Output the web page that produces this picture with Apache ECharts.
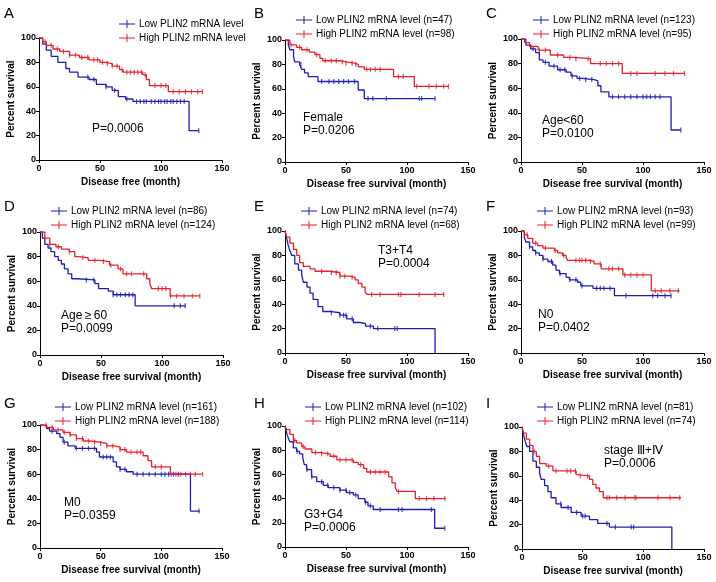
<!DOCTYPE html>
<html><head><meta charset="utf-8">
<script src="https://cdn.jsdelivr.net/npm/echarts@6/dist/echarts.min.js"></script>
<style>html,body{margin:0;padding:0;background:#fff}#c{width:716px;height:582px}</style>
</head><body><div id="c"></div>
<script>
// ---------- DATA ----------
const panelLetters = ['A','B','C','D','E','F','G','H','I'];
const lowNames = ['Low PLIN2 mRNA level','Low PLIN2 mRNA level (n=47)','Low PLIN2 mRNA level (n=123)','Low PLIN2 mRNA level (n=86)','Low PLIN2 mRNA level (n=74)','Low PLIN2 mRNA level (n=93)','Low PLIN2 mRNA level (n=161)','Low PLIN2 mRNA level (n=102)','Low PLIN2 mRNA level (n=81)'];
const highNames = ['High PLIN2 mRNA level','High PLIN2 mRNA level (n=98)','High PLIN2 mRNA level (n=95)','High PLIN2 mRNA level (n=124)','High PLIN2 mRNA level (n=68)','High PLIN2 mRNA level (n=99)','High PLIN2 mRNA level (n=188)','High PLIN2 mRNA level (n=114)','High PLIN2 mRNA level (n=74)'];
const xNames = ['Disease free (month)','Disease free survival (month)','Disease free survival (month)','Disease free survival (month)','Disease free survival (month)','Disease free survival (month)','Disease free survival (month)','Disease free survival (month)','Disease free survival (month)'];
const subgroupLabels = ['','Female','Age<60','Age\u2009\u2265\u200960','T3+T4','N0','M0','G3+G4','stage \u2162+\u2163'];
const pValues = ['P=0.0006','P=0.0206','P=0.0100','P=0.0099','P=0.0004','P=0.0402','P=0.0359','P=0.0006','P=0.0006'];
const xTicks = [0, 50, 100, 150];
const yTicks = [0, 20, 40, 60, 80, 100];

// Kaplan-Meier step points [month, percent survival]
const lowA = [[0,100],[3,95],[6,90],[10,85],[15.5,80],[22,75],[25,72],[32,68],[41,66],[47,62],[55,60],[60,57],[65,52],[71,50],[77,48],[123,24],[131,24]];
const highA = [[0,100],[3,97],[6,94],[11.5,91],[17,89],[25,86],[33,84],[41,82],[50,80],[55,79],[60,77],[66,74],[69,72],[85,70],[88,66],[90.5,61],[106,56],[134,56]];
const lowB = [[0,100],[2.7,96],[4,92],[7,86],[8,82],[12,80],[13.6,76],[16,73],[19,70],[27,66],[60,59],[65,52],[123,52]];
const highB = [[0,100],[4,96],[9.5,94],[13.6,92],[20,90],[24.5,88],[28.6,85],[31,83],[45,82],[50,81],[57,80],[60,78],[65,76],[89,70],[106,62],[134,62]];
const lowC = [[0,100],[4,95],[8,92],[12,89],[15,83],[18,81],[23,78],[30,75],[37,73],[41,70],[46,68],[50,67],[60,66],[63,62],[65.5,57],[72,53],[123,26],[131,26]];
const highC = [[0,100],[3,97],[7,94],[14,91],[24,87],[35,85],[42,84],[57,80],[83,72],[134,72]];
const lowD = [[0,100],[2,95],[4,90],[6.6,87],[9,84],[12,80],[15,77],[17.5,74],[20,70],[23,66],[26,62],[31,61],[45,58],[48,54],[56,52],[60,49],[78,40],[119.5,40]];
const highD = [[0,100],[4,95],[8,90],[13,88],[17.5,86],[24,84],[28.5,80],[32,79],[39.5,77],[49,76],[57,73],[64,70],[68,66],[87.5,62],[90,58],[91.5,54],[106.7,48],[131,48]];
const lowE = [[0,100],[1.4,94],[2.7,88],[4,84],[5.5,80],[8,73],[11,68],[13.7,64],[15,58],[18,54],[20.5,49],[23,44],[27,38],[31,34],[38,33],[45,31],[50.6,28],[56,25],[61.6,24],[66,22],[72.5,20],[123,0]];
const highE = [[0,100],[1.4,95],[4,90],[7,85],[9.6,80],[12,74],[15,71],[20.5,69],[24.6,67],[35.6,66],[45,63],[53,62],[57.5,60],[60,57],[63,54],[65.7,50],[67,48],[130.6,48]];
const lowF = [[0,100],[2.7,95],[4,91],[7,87],[9.6,84],[12,82],[15,80],[18,77],[22,75],[26,72],[28.7,68],[31.5,65],[37,62],[39.7,60],[46.5,58],[49,55],[59,53],[76.6,47],[123,47]];
const highF = [[0,100],[2.7,97],[5.5,94],[9.6,90],[13.7,88],[18,86],[27.4,84],[30,82],[34,80],[37,78],[38.3,76],[56,75],[60,73],[65.7,69],[83.5,64],[106.8,51],[130,51]];
const lowG = [[0,100],[2.7,99],[5.5,97],[8,95],[13.7,93],[16.5,90],[19,86],[23,83],[29,81],[46.6,78],[49,74],[60.3,70],[63,66],[66,64],[71.3,62],[76.8,60],[124,30],[131.6,30]];
const highG = [[0,100],[5.5,98],[11,96],[19,94],[24.7,92],[30,89],[35.6,87],[41,86],[49.4,85],[55,83],[61.7,82],[66,80],[71.3,78],[85,75],[89,71],[92,66],[107.5,60],[134,60]];
const lowH = [[0,100],[1.4,94],[2.7,90],[4,87],[6.8,82],[9.5,79],[12,77],[14.5,74],[15.8,68],[17.7,64],[21.8,58],[26,54],[31.4,51],[35.5,49],[45,47],[50.5,45],[56,43],[60,40],[65.5,37],[68,34],[72.3,31],[122.7,15.5],[131,15.5]];
const highH = [[0,100],[1.4,97],[4,93],[6.8,88],[9.5,86],[13.7,83],[16.4,81],[22,78],[28.8,77],[37,75],[42.5,72],[56,70],[60,68],[64.4,65],[67,62],[85,58],[87.7,53],[90.4,49],[91.8,46],[106.8,40],[131.5,40]];
const lowI = [[0,100],[1.4,93],[2.7,88],[4,84],[6.3,80],[9,72],[11.8,67],[14.5,62],[15.9,57],[18.6,52],[21.4,47],[24,42],[28,37],[32.3,34],[40.5,30],[48.7,27],[55.6,24],[62.4,21],[72,18],[123.5,0]];
const highI = [[0,100],[1.4,95],[3.6,90],[6.3,85],[9,80],[11.8,76],[14.5,70],[20,68],[25.5,64],[44.6,61],[46,60],[55.6,57],[58.3,53],[61,50],[63.8,47],[67,42],[131,42]];

// censored observation times (months)
const censLowA = [40,45,55,62,72,80,83,86,88,92,95,98,100,103,105,108,110,113,116,119,131];
const censHighA = [5,10,15,20,25,30,35,40,45,48,52,56,60,64,68,72,75,78,81,84,87,95,100,104,110,115,120,125,130,134];
const censLowB = [13,30,36,40,44,48,52,57,68,72,83,110,112,123];
const censHighB = [5,12,18,26,33,38,42,47,50,55,58,67,70,74,78,93,97,108,118,124,130,134];
const censLowC = [10,20,27,32,36,42,48,53,58,75,80,85,90,95,100,103,106,110,114,131];
const censHighC = [8,15,20,30,40,45,55,65,70,75,80,90,95,110,118,125,134];
const censLowD = [38,44,60,63,66,70,73,76,110,115,119];
const censHighD = [8,15,24,35,45,52,58,66,71,75,85,97,100,103,107,112,118,125,131];
const censLowE = [38,45,48,50,55,70,76,90,92];
const censHighE = [30,38,42,45,49,55,71,78,93,95,110,123,130];
const censLowF = [7,12,18,25,32,40,45,50,62,65,68,73,86,108,112,118,123];
const censHighF = [5,12,20,28,35,45,48,50,53,57,65,72,75,80,85,90,95,100,110,115,122,129];
const censLowG = [10,20,30,35,40,45,52,55,58,66,70,80,85,90,95,100,103,106,110,114,131];
const censHighG = [5,10,15,20,25,30,35,40,45,50,55,60,66,70,75,80,83,95,100,108,112,116,120,124,128,134];
const censLowH = [10,18,22,30,35,40,45,50,53,58,66,70,78,93,96,120,131];
const censHighH = [8,15,25,30,35,40,45,50,55,62,70,74,78,82,93,110,116,122,131];
const censLowI = [32,38,45,50,52,70,77,90,92];
const censHighI = [10,22,28,37,40,44,48,54,70,72,78,85,93,94,112,122,130];

const lowCurves = [lowA,lowB,lowC,lowD,lowE,lowF,lowG,lowH,lowI];
const highCurves = [highA,highB,highC,highD,highE,highF,highG,highH,highI];
const lowCens = [censLowA,censLowB,censLowC,censLowD,censLowE,censLowF,censLowG,censLowH,censLowI];
const highCens = [censHighA,censHighB,censHighC,censHighD,censHighE,censHighF,censHighG,censHighH,censHighI];

// ---------- LAYOUT ----------
const BLUE = '#1e1eb4', RED = '#e8202a';
const FONT = '"Liberation Sans", Arial, sans-serif';
const grids = [
  {left:39, top:38, width:183, height:122},
  {left:285, top:40, width:183, height:122},
  {left:521, top:39, width:183, height:123},
  {left:40, top:232, width:183, height:123},
  {left:285, top:231, width:183, height:122},
  {left:521, top:231, width:183, height:122},
  {left:40, top:425, width:182, height:123},
  {left:285, top:426, width:183, height:121},
  {left:522, top:427, width:182, height:122}
];
const legendPos = [
  {left:114, top:14}, {left:291, top:10}, {left:528, top:10},
  {left:46, top:201}, {left:296, top:201}, {left:532, top:201},
  {left:50, top:397}, {left:300, top:397}, {left:532, top:397}
];
const letterPos = [[4,6],[254,6],[486,6],[4,199],[254,199],[486,199],[4,396],[254,396],[486,396]];
const annotPos = [[92,122],[303,111],[542,114],[61,309],[378,244],[538,308],[64,496],[304,508],[604,444]];

function survAt(curve, t) {
  let v = curve[0][1];
  for (const p of curve) { if (p[0] <= t) v = p[1]; else break; }
  return v;
}

const tickIcon = 'path://M0,4.5 L16,4.5 L16,5.5 L0,5.5 Z M7.5,1 L8.5,1 L8.5,9 L7.5,9 Z';
const censorSym = 'path://M0,0 L1,0 L1,10 L0,10 Z';

const xAxis = [], yAxis = [], series = [], legend = [], graphic = [];
for (let i = 0; i < 9; i++) {
  xAxis.push({
    type:'value', gridIndex:i, min:0, max:150, interval:50,
    name:xNames[i], nameLocation:'middle', nameGap:17,
    nameTextStyle:{fontFamily:FONT, fontWeight:'bold', fontSize:10, color:'#000'},
    axisLine:{lineStyle:{color:'#000', width:1}},
    axisTick:{length:3, lineStyle:{color:'#000'}},
    axisLabel:{fontFamily:FONT, fontWeight:'bold', fontSize:9, color:'#000', margin:4,
      formatter:v => xTicks.includes(v) ? String(v) : ''},
    splitLine:{show:false}
  });
  yAxis.push({
    type:'value', gridIndex:i, min:0, max:100, interval:20,
    name:'Percent survival', nameLocation:'middle', nameGap:23, nameRotate:90,
    nameTextStyle:{fontFamily:FONT, fontWeight:'bold', fontSize:10, color:'#000'},
    axisLine:{show:true, lineStyle:{color:'#000', width:1}},
    axisTick:{show:true, length:3, lineStyle:{color:'#000'}},
    axisLabel:{fontFamily:FONT, fontWeight:'bold', fontSize:9, color:'#000', margin:3,
      formatter:v => yTicks.includes(v) ? String(v) : ''},
    splitLine:{show:false}
  });
  const groups = [[lowNames[i], lowCurves[i], lowCens[i], BLUE], [highNames[i], highCurves[i], highCens[i], RED]];
  for (const [name, curve, cens, col] of groups) {
    series.push({
      name, type:'line', xAxisIndex:i, yAxisIndex:i, step:'end', data:curve,
      showSymbol:false, symbol:'none', lineStyle:{color:col, width:1.3}, itemStyle:{color:col},
      animation:false, silent:true
    });
    series.push({
      name, type:'scatter', xAxisIndex:i, yAxisIndex:i,
      data:cens.map(t => [t, survAt(curve, t)]),
      symbol:censorSym, symbolSize:[1.2,5], itemStyle:{color:col},
      animation:false, silent:true
    });
  }
  legend.push({
    left:legendPos[i].left, top:legendPos[i].top, orient:'vertical', itemGap:4,
    itemWidth:16, itemHeight:9, selectedMode:false,
    data:[{name:lowNames[i], icon:tickIcon, itemStyle:{color:BLUE}}, {name:highNames[i], icon:tickIcon, itemStyle:{color:RED}}],
    textStyle:{fontFamily:FONT, fontSize:10, color:'#000', padding:[0,0,0,-1]}
  });
  graphic.push({type:'text', left:letterPos[i][0], top:letterPos[i][1],
    style:{text:panelLetters[i], font:'15px ' + FONT, fill:'#000'}});
  const annot = subgroupLabels[i] ? subgroupLabels[i] + '\n' + pValues[i] : pValues[i];
  graphic.push({type:'text', left:annotPos[i][0], top:annotPos[i][1],
    style:{text:annot, font:'12px ' + FONT, fill:'#000', lineHeight:13}});
}

const chart = echarts.init(document.getElementById('c'), null, {renderer:'canvas'});
chart.setOption({
  backgroundColor:'#fff', animation:false,
  grid:grids, xAxis, yAxis, series, legend, graphic
});
</script></body></html>
